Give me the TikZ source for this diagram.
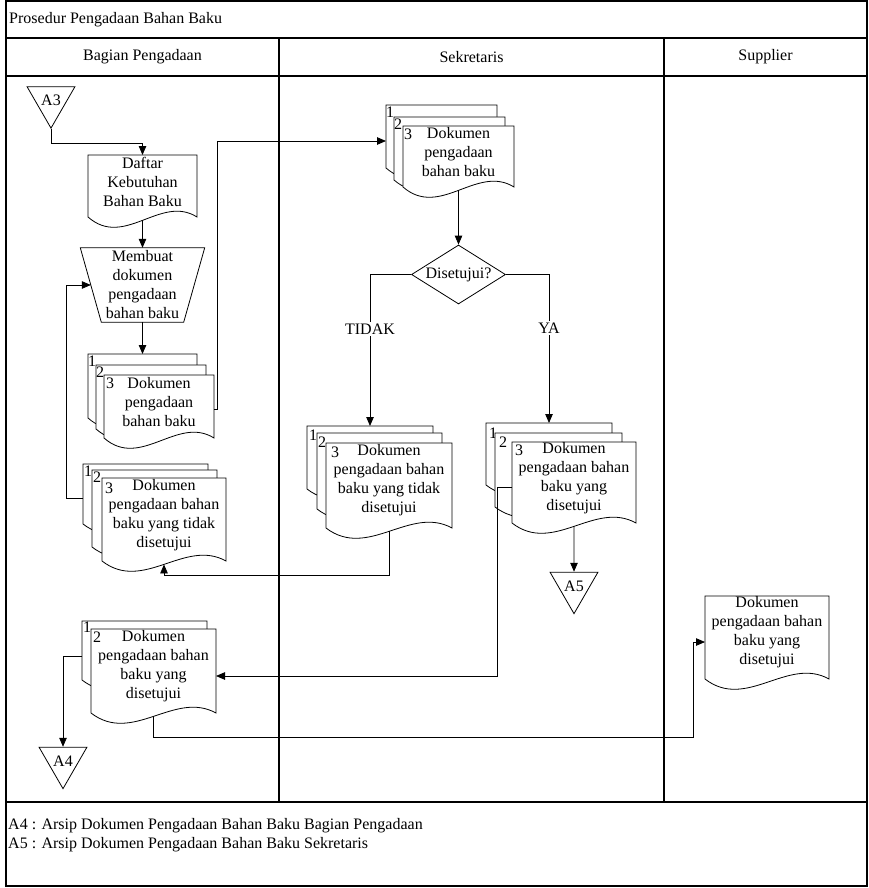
\documentclass[tikz,border=0pt]{standalone}
\usepackage{fontspec}
\setmainfont{Liberation Serif}
\usetikzlibrary{positioning, arrows.meta, shapes.geometric, calc}

\tikzset{
  lane/.style       = {draw, line width=1.2pt},
  sheetframe/.style = {inner sep=0pt, outer sep=0pt, anchor=north west},
  sheetline/.style  = {draw, fill=white, line width=0.8pt},
  doctext/.style    = {align=center, inner sep=0pt},
  docno/.style      = {inner sep=0pt},
  offpage/.style    = {draw, fill=white, line width=0.8pt, regular polygon,
                       regular polygon sides=3, shape border rotate=180,
                       minimum size=54pt, inner sep=0pt},
  decision/.style   = {draw, fill=white, line width=0.8pt, diamond, aspect=1.6,
                       minimum width=94pt, minimum height=59pt, inner sep=0pt},
  flowarrow/.style  = {line width=0.8pt, -{Triangle[length=9pt,width=7.5pt]}},
  guard/.style      = {fill=white, inner sep=1.5pt}
}

% one sheet of a document symbol: name, left, top, width, height
\newcommand{\docsheet}[5]{%
  \node[sheetframe, minimum width=#4pt, minimum height=#5pt] (#1) at (#2,#3) {};
  \path[sheetline] (#1.north west) -- (#1.north east) -- (#1.south east)
    .. controls ($(#1.south east)+(-#4/3,-23)$) and ($(#1.south west)+(#4/3,32)$)
    .. (#1.south west) -- cycle;
  \coordinate (#1-wave) at ($(#1.south)+(0,3.4)$);
}

\begin{document}
\begin{tikzpicture}[x=1pt, y=-1pt, font=\fontsize{16}{19}\selectfont]
  \useasboundingbox (0,0) rectangle (869,888);

  % frame and lanes
  \draw[lane] (6,1) rectangle (867,886);
  \draw[lane] (6,38) -- (867,38);
  \draw[lane] (6,76) -- (867,76);
  \draw[lane] (6,802) -- (867,802);
  \draw[lane] (279,38) -- (279,802);
  \draw[lane] (664,38) -- (664,802);

  \node[anchor=west, inner sep=0pt] (judul) at (9,20) {Prosedur Pengadaan Bahan Baku};
  \node (hpengadaan) at (142.5,57) {Bagian Pengadaan};
  \node (hsekretaris) at (471.5,57) {Sekretaris};
  \node (hsupplier) at (765.5,57) {Supplier};
  \node[anchor=west, inner sep=0pt] (ket1) at (8,826)
       {A4 : Arsip Dokumen Pengadaan Bahan Baku Bagian Pengadaan};
  \node[anchor=west, inner sep=0pt] (ket2) at (8,845)
       {A5 : Arsip Dokumen Pengadaan Bahan Baku Sekretaris};

  % Bagian Pengadaan
  \node[offpage] (a3) at (51,100.5) {A3};

  \docsheet{daftar}{88}{155}{109}{62}
  \node[doctext] (daftar-txt) at ([yshift=4pt]daftar.center) {Daftar\\Kebutuhan\\Bahan Baku};

  \node[inner sep=0pt, minimum width=124pt, minimum height=74pt] (buat) at (142.5,285) {};
  \path[sheetline] (buat.north west) -- (buat.north east)
    -- ($(buat.south east)+(-21,0)$) -- ($(buat.south west)+(21,0)$) -- cycle;
  \node[doctext] (buat-txt) at (buat.center) {Membuat\\dokumen\\pengadaan\\bahan baku};
  \coordinate (buat-in) at ($(buat.west)+(10.5,0)$);

  \docsheet{dpb1}{88}{354}{109}{64}
  \node[docno] (dpb1-no) at ($(dpb1.north west)+(4,7)$) {1};
  \docsheet{dpb2}{96}{365}{110}{64}
  \node[docno] (dpb2-no) at ($(dpb2.north west)+(4,7)$) {2};
  \docsheet{dpb3}{104}{375}{110}{63}
  \node[docno] (dpb3-no) at ($(dpb3.north west)+(6,8.5)$) {3};
  \node[doctext] (dpb-txt) at ([yshift=4pt]dpb3.center) {Dokumen\\pengadaan\\bahan baku};
  \coordinate (dpb-out) at ($(dpb3.north east)+(0,34)$);

  \docsheet{tdb1}{83}{464}{125}{60}
  \node[docno] (tdb1-no) at ($(tdb1.north west)+(5,7)$) {1};
  \docsheet{tdb2}{92}{470}{125}{77}
  \node[docno] (tdb2-no) at ($(tdb2.north west)+(5,7)$) {2};
  \docsheet{tdb3}{102}{478}{124}{83}
  \node[docno] (tdb3-no) at ($(tdb3.north west)+(7,10)$) {3};
  \node[doctext] (tdb-txt) at ([yshift=4.5pt]tdb3.center)
       {Dokumen\\pengadaan bahan\\baku yang tidak\\disetujui};
  \coordinate (tdb-out) at ($(tdb1.north west)+(0,34)$);

  \docsheet{dsb1}{82}{621}{125}{59}
  \node[docno] (dsb1-no) at ($(dsb1.north west)+(5,6)$) {1};
  \docsheet{dsb2}{91}{629}{125}{84}
  \node[docno] (dsb2-no) at ($(dsb2.north west)+(6,8.5)$) {2};
  \node[doctext] (dsb-txt) at ([yshift=5pt]dsb2.center)
       {Dokumen\\pengadaan bahan\\baku yang\\disetujui};
  \coordinate (dsb-out) at ($(dsb1.north west)+(0,35)$);
  \coordinate (dsb-in) at ($(dsb2.north east)+(0,47)$);

  \node[offpage] (a4) at (63,761) {A4};

  % Sekretaris
  \docsheet{dps1}{386}{105}{111}{63}
  \node[docno] (dps1-no) at ($(dps1.north west)+(4,7)$) {1};
  \docsheet{dps2}{394}{117}{111}{63}
  \node[docno] (dps2-no) at ($(dps2.north west)+(4,7)$) {2};
  \docsheet{dps3}{403}{126}{111}{61}
  \node[docno] (dps3-no) at ($(dps3.north west)+(5,8.5)$) {3};
  \node[doctext] (dps-txt) at ([yshift=4pt]dps3.center) {Dokumen\\pengadaan\\bahan baku};
  \coordinate (dps-in) at ($(dps1.north west)+(0,36)$);

  \node[decision] (cek) at (458.5,274.5) {Disetujui?};

  \docsheet{tds1}{307}{426}{126}{63}
  \node[docno] (tds1-no) at ($(tds1.north west)+(6,9)$) {1};
  \docsheet{tds2}{317}{433}{125}{76}
  \node[docno] (tds2-no) at ($(tds2.north west)+(5,9)$) {2};
  \docsheet{tds3}{326}{443}{126}{85}
  \node[docno] (tds3-no) at ($(tds3.north west)+(9,9)$) {3};
  \node[doctext] (tds-txt) at ([yshift=5pt]tds3.center)
       {Dokumen\\pengadaan bahan\\baku yang tidak\\disetujui};

  \docsheet{yas1}{486}{423}{126}{62}
  \node[docno] (yas1-no) at ($(yas1.north west)+(7,10)$) {1};
  \docsheet{yas2}{495}{433}{127}{74}
  \node[docno] (yas2-no) at ($(yas2.north west)+(8,9)$) {2};
  \docsheet{yas3}{512}{442}{124}{81}
  \node[docno] (yas3-no) at ($(yas3.north west)+(7,8.5)$) {3};
  \node[doctext] (yas-txt) at ([yshift=4pt]yas3.center)
       {Dokumen\\pengadaan bahan\\baku yang\\disetujui};
  \coordinate (yas-out) at ($(yas3.north west)+(0,45)$);

  \node[offpage] (a5) at (574,586) {A5};

  % Supplier
  \docsheet{dsp}{705}{596}{124}{83}
  \node[doctext] (dsp-txt) at ([yshift=5pt]dsp.center)
       {Dokumen\\pengadaan bahan\\baku yang\\disetujui};
  \coordinate (dsp-in) at ($(dsp.north west)+(0,46)$);

  % connectors
  \draw[flowarrow] (a3.south) -- ++(0,14) -| (daftar.north);
  \draw[flowarrow] (daftar-wave) -- (buat.north);
  \draw[flowarrow] (buat.south) -- (dpb1.north);
  \draw[flowarrow] (tdb-out) -- ++(-17,0) |- (buat-in);
  \draw[flowarrow] (dpb-out) -- ++(3,0) |- (dps-in);
  \draw[flowarrow] (dps3-wave) -- (cek.north);
  \draw[flowarrow] (cek.west) -| node[guard, pos=0.68] (lbl-tidak) {TIDAK} (tds1.north);
  \draw[flowarrow] (cek.east) -| node[guard, pos=0.68] (lbl-ya) {YA} (yas1.north);
  \draw[flowarrow] (tds3-wave) -- ++(0,44) -| (tdb3-wave);
  \draw[flowarrow] (yas3-wave) -- (a5.north);
  \draw[flowarrow] (yas-out) -- ++(-15,0) |- (dsb-in);
  \draw[flowarrow] (dsb-out) -| (a4.north);
  \draw[flowarrow] (dsb2-wave) -- ++(0,21) -| ($(dsp-in)+(-12,0)$) -- (dsp-in);
\end{tikzpicture}
\end{document}
